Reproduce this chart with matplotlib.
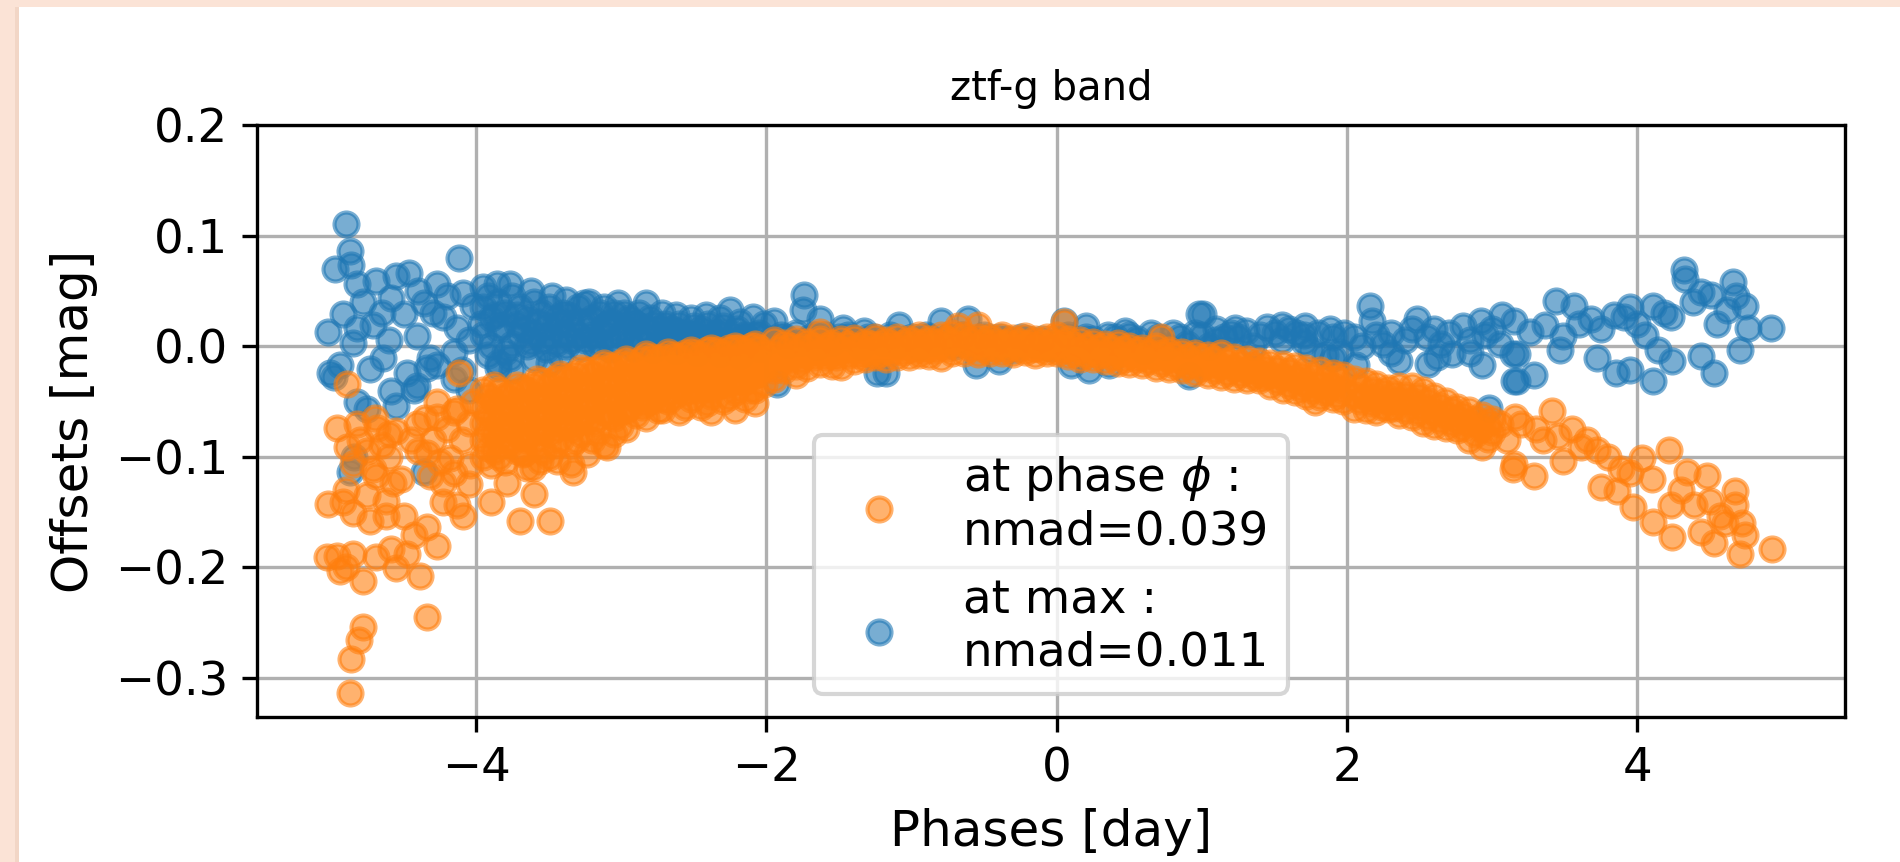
import numpy as np
import matplotlib.pyplot as plt
from matplotlib.patches import Rectangle

# offsets "at max" (blue), phase [day], offset [mag]
max_left = [(-4.90, 0.110), (-4.87, 0.086), (-4.97, 0.070), (-4.86, 0.073), (-4.82, 0.056),
            (-4.69, 0.059), (-4.55, 0.063), (-4.46, 0.066), (-4.27, 0.056), (-4.12, 0.080),
            (-4.09, 0.048), (-4.92, 0.029), (-5.02, 0.013), (-4.82, 0.016), (-4.71, 0.019),
            (-4.59, 0.043), (-4.50, 0.029), (-4.36, 0.039), (-4.23, 0.026), (-4.13, 0.016),
            (-4.02, 0.036), (-4.41, 0.009), (-5.01, -0.024), (-4.94, -0.017), (-4.73, -0.021),
            (-4.64, -0.011), (-4.48, -0.024), (-4.41, -0.036), (-4.82, -0.051), (-4.75, -0.057),
            (-4.59, -0.041), (-4.55, -0.054), (-4.32, -0.011), (-4.27, -0.017), (-4.87, -0.114),
            (-4.36, -0.114), (-4.78, 0.040), (-4.65, 0.030), (-4.40, 0.050), (-4.30, 0.030),
            (-4.20, 0.045), (-4.05, 0.005), (-4.15, -0.005), (-4.60, 0.005), (-4.85, 0.003),
            (-4.98, -0.028), (-4.84, -0.100), (-4.43, -0.040), (-4.34, -0.020),
            (-4.15, -0.030), (-4.05, -0.040), (-4.10, -0.022)]
max_early = [(-3.95, 0.053), (-3.86, 0.056), (-3.77, 0.056), (-3.95, 0.035), (-3.90, 0.025),
             (-3.85, 0.040), (-3.80, 0.030), (-3.75, 0.045), (-3.70, 0.035), (-3.65, 0.025),
             (-3.60, 0.040), (-3.55, 0.030), (-3.50, 0.035), (-3.45, 0.025), (-3.40, 0.030),
             (-3.35, 0.020), (-3.30, 0.035), (-3.26, 0.039), (-3.20, 0.025), (-3.15, 0.030),
             (-3.10, 0.020), (-3.05, 0.030), (-3.02, 0.039), (-2.95, 0.025), (-2.90, 0.020),
             (-2.83, 0.039), (-2.80, 0.025), (-2.75, 0.015), (-2.70, 0.020), (-2.65, 0.015),
             (-2.60, 0.020), (-2.55, 0.012), (-2.50, 0.018), (-2.45, 0.015), (-2.40, 0.020),
             (-2.35, 0.012), (-2.30, 0.018), (-2.25, 0.033), (-2.20, 0.015), (-2.15, 0.010),
             (-2.09, 0.026), (-2.05, 0.012),
             (-3.95, 0.010), (-3.90, 0.000), (-3.85, 0.015), (-3.80, -0.005), (-3.77, -0.011),
             (-3.70, 0.010), (-3.65, 0.000), (-3.60, 0.012), (-3.55, 0.005), (-3.50, 0.010),
             (-3.45, 0.003), (-3.40, 0.012), (-3.35, 0.005), (-3.30, 0.010), (-3.25, 0.005),
             (-3.20, 0.010), (-3.15, 0.003), (-3.10, 0.008), (-3.05, 0.005), (-3.00, 0.010),
             (-2.95, 0.004), (-2.90, 0.008), (-2.85, 0.003), (-2.80, 0.008), (-2.75, 0.002),
             (-2.70, 0.006), (-2.65, 0.002), (-2.60, 0.006), (-2.55, 0.000), (-2.50, 0.005),
             (-2.45, 0.002), (-2.40, 0.005), (-2.35, 0.000), (-2.30, 0.004), (-2.25, 0.002),
             (-2.20, 0.004), (-2.15, 0.000), (-2.10, 0.004), (-2.05, -0.002),
             (-3.60, -0.012), (-3.50, -0.015), (-3.42, -0.008), (-3.85, -0.020),
             (-3.92, 0.045), (-3.72, 0.020), (-3.62, 0.050), (-3.48, 0.045), (-3.38, 0.042),
             (-3.22, 0.040), (-3.12, 0.035), (-2.98, 0.030), (-2.88, 0.030), (-2.72, 0.030),
             (-2.62, 0.028), (-2.52, 0.025), (-2.42, 0.028), (-2.32, 0.025), (-2.18, 0.022),
             (-2.02, 0.020),
             (-3.97, 0.020), (-3.87, 0.028), (-3.82, 0.018), (-3.72, 0.028), (-3.67, 0.015),
             (-3.57, 0.022), (-3.52, 0.018), (-3.42, 0.020), (-3.37, 0.028), (-3.27, 0.022),
             (-3.22, 0.015), (-3.12, 0.018), (-3.07, 0.022), (-2.97, 0.015), (-2.92, 0.022),
             (-2.82, 0.015), (-2.77, 0.020), (-2.67, 0.010), (-2.62, 0.014), (-2.52, 0.010),
             (-2.47, 0.008), (-2.37, 0.008), (-2.32, 0.012), (-2.22, 0.010), (-2.17, 0.006),
             (-2.07, 0.010), (-3.92, -0.008), (-3.75, 0.002), (-3.62, 0.004), (-3.52, -0.003),
             (-3.38, 0.000), (-3.28, -0.002), (-3.18, 0.000), (-3.08, -0.003), (-2.92, -0.002),
             (-2.78, -0.003), (-2.62, -0.004), (-2.48, -0.005), (-2.32, -0.006), (-2.18, -0.008),
             (-3.85, -0.015), (-3.75, -0.022)]
max_center = [(-1.95, 0.023), (-1.74, 0.046), (-1.75, 0.033), (-1.63, 0.024), (-1.24, -0.024),
              (-1.93, -0.034), (-1.47, 0.016), (-1.33, 0.014), (-1.09, 0.019), (-0.80, 0.023),
              (-0.61, 0.024), (0.05, 0.023), (0.20, 0.018), (0.47, 0.014), (0.98, 0.029),
              (-0.56, -0.017), (-1.18, -0.024), (-0.40, -0.014), (0.10, -0.017), (0.22, -0.022),
              (0.36, -0.017), (0.91, -0.027), (1.01, 0.029), (1.23, 0.016), (1.55, 0.019),
              (1.71, 0.018), (1.90, -0.011),
              (-1.90, 0.010), (-1.85, 0.002), (-1.80, 0.012), (-1.70, 0.008), (-1.65, 0.000),
              (-1.60, 0.010), (-1.55, 0.004), (-1.50, 0.008), (-1.40, 0.006), (-1.35, 0.000),
              (-1.30, 0.008), (-1.20, 0.004), (-1.15, 0.010), (-1.10, 0.002), (-1.00, 0.008),
              (-0.95, 0.000), (-0.90, 0.010), (-0.85, 0.004), (-0.75, 0.008), (-0.70, 0.000),
              (-0.65, 0.010), (-0.55, 0.004), (-0.50, 0.010), (-0.45, 0.000), (-0.35, 0.006),
              (-0.30, -0.004), (-0.25, 0.008), (-0.15, 0.002), (-0.10, 0.006), (-0.05, -0.002),
              (0.00, 0.004), (0.08, 0.010), (0.15, 0.000), (0.25, 0.006), (0.30, -0.004),
              (0.40, 0.008), (0.45, 0.000), (0.55, 0.006), (0.60, -0.004), (0.70, 0.008),
              (0.75, 0.000), (0.85, 0.008), (0.90, 0.002), (1.00, 0.010), (1.05, 0.000),
              (1.10, 0.015), (1.15, 0.008), (1.20, 0.012), (1.30, 0.014), (1.35, 0.000),
              (1.45, 0.017), (1.50, 0.012), (1.60, 0.015), (1.65, 0.012), (1.70, 0.010),
              (1.75, -0.004), (1.80, 0.012), (1.85, -0.008), (1.90, 0.008), (1.95, -0.005),
              (1.98, 0.012),
              (-1.97, 0.006), (-1.87, 0.008), (-1.77, 0.004), (-1.67, 0.010), (-1.57, 0.006),
              (-1.44, 0.010), (-1.26, 0.008), (-1.05, 0.006), (-0.88, 0.008), (-0.60, 0.006),
              (-0.40, 0.008), (-0.20, 0.006), (0.20, 0.008), (0.35, 0.010), (0.50, 0.010),
              (0.65, 0.012), (0.80, 0.012), (0.95, 0.012), (1.10, 0.005), (1.25, 0.008),
              (1.40, 0.010), (1.55, 0.005), (1.70, 0.004), (1.88, 0.015)]
max_right = [(2.16, 0.036), (2.17, 0.023), (2.48, 0.024), (2.92, 0.023), (3.07, 0.028),
             (2.93, -0.017), (2.56, -0.016), (2.72, -0.007), (3.14, -0.007), (3.15, -0.032),
             (2.36, -0.014), (2.06, -0.017), (2.98, -0.056), (2.05, 0.008), (2.10, 0.000),
             (2.20, 0.010), (2.25, 0.002), (2.30, 0.012), (2.40, 0.005), (2.45, 0.015),
             (2.55, 0.008), (2.60, 0.015), (2.65, 0.002), (2.70, 0.012), (2.80, 0.018),
             (2.85, 0.005), (2.95, 0.010), (3.00, 0.015), (3.05, 0.002), (2.30, -0.006),
             (2.62, -0.010), (2.85, -0.006),
             (4.32, 0.069), (4.33, 0.061), (4.66, 0.058), (4.92, 0.016), (3.44, 0.041),
             (3.56, 0.036), (3.15, 0.023), (3.26, 0.013), (3.68, 0.024), (3.84, 0.028),
             (3.91, 0.026), (4.11, 0.036), (4.23, 0.026), (4.44, 0.049), (4.51, 0.046),
             (4.74, 0.036), (4.76, 0.016), (4.71, -0.004), (4.62, 0.033), (3.17, -0.007),
             (3.29, -0.026), (3.17, -0.032), (3.47, -0.004), (3.72, -0.011), (3.85, -0.024),
             (3.95, -0.022), (4.11, -0.032), (4.24, -0.014), (4.44, -0.009), (4.53, -0.024),
             (4.14, -0.004), (3.36, 0.019), (3.49, 0.009), (3.60, 0.020), (3.75, 0.015),
             (4.00, 0.020), (4.05, 0.010), (4.18, 0.030), (4.38, 0.040), (4.55, 0.020),
             (4.68, 0.045), (3.95, 0.035)]

# offsets "at phase phi" (orange)
phase_left = [(-4.89, -0.034), (-4.12, -0.024), (-4.96, -0.074), (-4.82, -0.071), (-4.68, -0.074),
              (-4.55, -0.077), (-4.41, -0.071), (-4.27, -0.051), (-4.27, -0.064), (-4.13, -0.057),
              (-4.02, -0.051), (-4.89, -0.091), (-4.85, -0.107), (-4.71, -0.111), (-4.57, -0.124),
              (-4.69, -0.118), (-5.02, -0.143), (-4.92, -0.141), (-4.85, -0.151), (-4.73, -0.158),
              (-4.62, -0.154), (-4.50, -0.154), (-4.43, -0.171), (-4.27, -0.181), (-4.34, -0.164),
              (-4.32, -0.118), (-4.23, -0.124), (-4.13, -0.144), (-4.09, -0.154), (-4.23, -0.141),
              (-4.34, -0.097), (-4.18, -0.101), (-4.04, -0.108), (-5.03, -0.191), (-4.94, -0.204),
              (-4.85, -0.188), (-4.78, -0.213), (-4.69, -0.191), (-4.59, -0.184), (-4.55, -0.201),
              (-4.48, -0.188), (-4.39, -0.208), (-4.34, -0.245), (-4.78, -0.254), (-4.81, -0.266),
              (-4.86, -0.283), (-4.87, -0.314), (-4.80, -0.085), (-4.75, -0.095), (-4.65, -0.090),
              (-4.60, -0.100), (-4.45, -0.085), (-4.40, -0.095), (-4.30, -0.085), (-4.20, -0.075),
              (-4.10, -0.085), (-4.05, -0.070), (-4.15, -0.060), (-4.35, -0.065), (-4.60, -0.080),
              (-4.70, -0.065), (-4.25, -0.105), (-4.15, -0.115), (-4.05, -0.125), (-4.90, -0.130),
              (-4.75, -0.135), (-4.62, -0.140), (-4.52, -0.120), (-4.96, -0.190), (-4.90, -0.200)]
phase_early = [(-3.90, -0.108), (-3.90, -0.141), (-3.79, -0.124), (-3.70, -0.158), (-3.60, -0.134),
               (-3.49, -0.158), (-3.67, -0.097), (-3.56, -0.104), (-3.44, -0.104), (-3.35, -0.107),
               (-3.33, -0.114), (-3.61, -0.110), (-3.10, -0.091), (-3.24, -0.098),
               (-3.95, -0.040), (-3.95, -0.055), (-3.95, -0.070), (-3.95, -0.085), (-3.95, -0.100),
               (-3.88, -0.035), (-3.88, -0.050), (-3.88, -0.065), (-3.88, -0.080), (-3.88, -0.095),
               (-3.80, -0.045), (-3.80, -0.060), (-3.80, -0.075), (-3.80, -0.090), (-3.80, -0.105),
               (-3.72, -0.035), (-3.72, -0.050), (-3.72, -0.065), (-3.72, -0.080), (-3.72, -0.095),
               (-3.65, -0.040), (-3.65, -0.055), (-3.65, -0.070), (-3.65, -0.085), (-3.65, -0.110),
               (-3.58, -0.030), (-3.58, -0.045), (-3.58, -0.060), (-3.58, -0.075), (-3.58, -0.090),
               (-3.50, -0.035), (-3.50, -0.050), (-3.50, -0.065), (-3.50, -0.080), (-3.50, -0.100),
               (-3.42, -0.025), (-3.42, -0.040), (-3.42, -0.055), (-3.42, -0.070), (-3.42, -0.085),
               (-3.35, -0.030), (-3.35, -0.045), (-3.35, -0.060), (-3.35, -0.075), (-3.35, -0.090),
               (-3.28, -0.020), (-3.28, -0.035), (-3.28, -0.050), (-3.28, -0.065), (-3.28, -0.080),
               (-3.20, -0.025), (-3.20, -0.040), (-3.20, -0.055), (-3.20, -0.070), (-3.20, -0.085),
               (-3.12, -0.015), (-3.12, -0.030), (-3.12, -0.045), (-3.12, -0.060), (-3.12, -0.090),
               (-3.05, -0.020), (-3.05, -0.035), (-3.05, -0.050), (-3.05, -0.065), (-3.05, -0.080),
               (-2.97, -0.012), (-2.97, -0.028), (-2.97, -0.042), (-2.97, -0.058), (-2.97, -0.075),
               (-2.90, -0.018), (-2.90, -0.032), (-2.90, -0.048), (-2.90, -0.062),
               (-2.83, -0.007), (-2.83, -0.022), (-2.83, -0.038), (-2.83, -0.052), (-2.83, -0.065),
               (-2.75, -0.012), (-2.75, -0.028), (-2.75, -0.042), (-2.75, -0.058),
               (-2.68, -0.005), (-2.68, -0.020), (-2.68, -0.035), (-2.68, -0.050),
               (-2.60, -0.010), (-2.60, -0.025), (-2.60, -0.040), (-2.60, -0.060),
               (-2.52, -0.004), (-2.52, -0.018), (-2.52, -0.032), (-2.52, -0.048),
               (-2.45, -0.008), (-2.45, -0.022), (-2.45, -0.038), (-2.45, -0.055),
               (-2.38, -0.002), (-2.38, -0.016), (-2.38, -0.030), (-2.38, -0.045), (-2.38, -0.060),
               (-2.30, -0.006), (-2.30, -0.020), (-2.30, -0.035), (-2.30, -0.050),
               (-2.22, 0.000), (-2.22, -0.014), (-2.22, -0.028), (-2.22, -0.042), (-2.22, -0.058),
               (-2.15, -0.004), (-2.15, -0.018), (-2.15, -0.032), (-2.15, -0.048),
               (-2.08, 0.002), (-2.08, -0.012), (-2.08, -0.026), (-2.08, -0.040), (-2.08, -0.052),
               (-2.02, -0.006), (-2.02, -0.020), (-2.02, -0.034)]
phase_early_fill = [(-3.92, -0.045), (-3.92, -0.062), (-3.92, -0.078), (-3.92, -0.092),
                    (-3.84, -0.040), (-3.84, -0.055), (-3.84, -0.070), (-3.84, -0.085), (-3.84, -0.100),
                    (-3.76, -0.042), (-3.76, -0.058), (-3.76, -0.072), (-3.76, -0.088),
                    (-3.68, -0.038), (-3.68, -0.052), (-3.68, -0.068), (-3.68, -0.082), (-3.68, -0.098),
                    (-3.61, -0.035), (-3.61, -0.050), (-3.61, -0.065), (-3.61, -0.080),
                    (-3.54, -0.032), (-3.54, -0.048), (-3.54, -0.062), (-3.54, -0.078), (-3.54, -0.095),
                    (-3.46, -0.030), (-3.46, -0.045), (-3.46, -0.060), (-3.46, -0.075), (-3.46, -0.090),
                    (-3.38, -0.028), (-3.38, -0.042), (-3.38, -0.058), (-3.38, -0.072),
                    (-3.31, -0.025), (-3.31, -0.040), (-3.31, -0.055), (-3.31, -0.070), (-3.31, -0.085),
                    (-3.24, -0.022), (-3.24, -0.038), (-3.24, -0.052), (-3.24, -0.068),
                    (-3.16, -0.020), (-3.16, -0.035), (-3.16, -0.050), (-3.16, -0.065), (-3.16, -0.078),
                    (-3.08, -0.018), (-3.08, -0.032), (-3.08, -0.048), (-3.08, -0.062),
                    (-3.01, -0.015), (-3.01, -0.030), (-3.01, -0.045), (-3.01, -0.060), (-3.01, -0.072),
                    (-2.94, -0.015), (-2.94, -0.028), (-2.94, -0.042), (-2.94, -0.055),
                    (-2.86, -0.012), (-2.86, -0.025), (-2.86, -0.040), (-2.86, -0.055),
                    (-2.79, -0.010), (-2.79, -0.022), (-2.79, -0.036), (-2.79, -0.050),
                    (-2.72, -0.010), (-2.72, -0.022), (-2.72, -0.035), (-2.72, -0.048), (-2.72, -0.058),
                    (-2.64, -0.008), (-2.64, -0.020), (-2.64, -0.032), (-2.64, -0.045),
                    (-2.56, -0.006), (-2.56, -0.018), (-2.56, -0.030), (-2.56, -0.042), (-2.56, -0.055),
                    (-2.49, -0.006), (-2.49, -0.016), (-2.49, -0.028), (-2.49, -0.040),
                    (-2.41, -0.004), (-2.41, -0.014), (-2.41, -0.026), (-2.41, -0.038), (-2.41, -0.052),
                    (-2.34, -0.004), (-2.34, -0.014), (-2.34, -0.025), (-2.34, -0.036),
                    (-2.26, -0.002), (-2.26, -0.012), (-2.26, -0.022), (-2.26, -0.034), (-2.26, -0.046),
                    (-2.19, -0.002), (-2.19, -0.010), (-2.19, -0.020), (-2.19, -0.032),
                    (-2.11, 0.000), (-2.11, -0.008), (-2.11, -0.018), (-2.11, -0.028), (-2.11, -0.040),
                    (-2.05, -0.002), (-2.05, -0.012), (-2.05, -0.024)]
phase_center = [(-1.95, 0.005), (-1.95, -0.008), (-1.95, -0.022), (-1.95, -0.030),
                (-1.88, 0.003), (-1.88, -0.010), (-1.88, -0.022),
                (-1.80, 0.006), (-1.80, -0.006), (-1.80, -0.018), (-1.80, -0.026),
                (-1.72, 0.004), (-1.72, -0.008), (-1.72, -0.020),
                (-1.63, 0.013), (-1.63, 0.006), (-1.63, -0.005), (-1.63, -0.016),
                (-1.55, 0.003), (-1.55, -0.008), (-1.55, -0.018),
                (-1.49, 0.006), (-1.49, -0.004), (-1.49, -0.019),
                (-1.40, 0.007), (-1.40, -0.003), (-1.40, -0.014),
                (-1.32, 0.004), (-1.32, -0.006), (-1.32, -0.012),
                (-1.25, 0.008), (-1.25, -0.002), (-1.25, -0.010),
                (-1.18, 0.005), (-1.18, -0.004), (-1.18, -0.012),
                (-1.10, 0.008), (-1.10, 0.000), (-1.10, -0.010),
                (-1.02, 0.006), (-1.02, -0.003), (-1.02, -0.010),
                (-0.95, 0.010), (-0.95, 0.002), (-0.95, -0.008),
                (-0.88, 0.006), (-0.88, -0.002), (-0.88, -0.009),
                (-0.80, 0.010), (-0.80, 0.000), (-0.80, -0.011),
                (-0.72, 0.012), (-0.72, 0.004), (-0.72, -0.006), (-0.68, 0.018),
                (-0.64, 0.010), (-0.64, 0.002), (-0.64, -0.006),
                (-0.54, 0.019), (-0.54, 0.008), (-0.54, 0.000), (-0.54, -0.007),
                (-0.46, 0.008), (-0.46, 0.000), (-0.46, -0.006),
                (-0.38, 0.010), (-0.38, 0.002), (-0.38, -0.006),
                (-0.30, 0.007), (-0.30, 0.000), (-0.30, -0.007),
                (-0.22, 0.009), (-0.22, 0.002), (-0.22, -0.005),
                (-0.15, 0.006), (-0.15, -0.002), (-0.15, -0.008),
                (-0.07, 0.008), (-0.07, 0.000), (-0.07, -0.006),
                (0.00, 0.010), (0.00, 0.002), (0.00, -0.006), (0.05, 0.022),
                (0.08, 0.006), (0.08, -0.002), (0.08, -0.009),
                (0.16, 0.005), (0.16, -0.004), (0.16, -0.012),
                (0.25, 0.004), (0.25, -0.005), (0.25, -0.012),
                (0.33, 0.002), (0.33, -0.006), (0.33, -0.014),
                (0.42, 0.003), (0.42, -0.007), (0.42, -0.015),
                (0.50, 0.000), (0.50, -0.008), (0.50, -0.016),
                (0.59, -0.002), (0.59, -0.010), (0.59, -0.017),
                (0.68, 0.000), (0.68, -0.010), (0.68, -0.020), (0.72, 0.008),
                (0.77, -0.004), (0.77, -0.012), (0.77, -0.021),
                (0.86, -0.005), (0.86, -0.014), (0.86, -0.022),
                (0.95, -0.006), (0.95, -0.015), (0.95, -0.024),
                (1.04, -0.008), (1.04, -0.017), (1.04, -0.026),
                (1.13, -0.006), (1.13, -0.018), (1.13, -0.028),
                (1.22, -0.010), (1.22, -0.020), (1.22, -0.030),
                (1.31, -0.012), (1.31, -0.022), (1.31, -0.031),
                (1.39, -0.014), (1.39, -0.024), (1.39, -0.031),
                (1.47, -0.015), (1.47, -0.026), (1.47, -0.036),
                (1.56, -0.016), (1.56, -0.028), (1.56, -0.040),
                (1.64, -0.018), (1.64, -0.030), (1.64, -0.042),
                (1.72, -0.020), (1.72, -0.034), (1.72, -0.045), (1.78, -0.051),
                (1.81, -0.022), (1.81, -0.035), (1.81, -0.046),
                (1.90, -0.024), (1.90, -0.036), (1.90, -0.048),
                (1.97, -0.026), (1.97, -0.040), (1.97, -0.050)]
phase_center_fill = [(-1.91, -0.002), (-1.91, -0.015), (-1.84, 0.000), (-1.84, -0.012),
                     (-1.76, -0.001), (-1.76, -0.013), (-1.68, 0.000), (-1.68, -0.010),
                     (-1.59, 0.000), (-1.59, -0.010), (-1.52, 0.000), (-1.52, -0.010),
                     (-1.44, 0.002), (-1.44, -0.008), (-1.36, 0.000), (-1.36, -0.008),
                     (-1.28, 0.002), (-1.28, -0.006), (-1.21, 0.002), (-1.21, -0.006),
                     (-1.14, 0.002), (-1.14, -0.005), (-1.06, 0.003), (-1.06, -0.005),
                     (-0.98, 0.004), (-0.98, -0.004), (-0.91, 0.004), (-0.91, -0.004),
                     (-0.84, 0.004), (-0.84, -0.004), (-0.76, 0.006), (-0.76, -0.002),
                     (-0.60, 0.005), (-0.60, -0.002), (-0.50, 0.004), (-0.50, -0.003),
                     (-0.42, 0.004), (-0.42, -0.002), (-0.34, 0.004), (-0.34, -0.003),
                     (-0.26, 0.004), (-0.26, -0.002), (-0.18, 0.003), (-0.18, -0.003),
                     (-0.11, 0.003), (-0.11, -0.003), (-0.03, 0.004), (-0.03, -0.002),
                     (0.04, 0.003), (0.04, -0.004), (0.12, 0.001), (0.12, -0.006),
                     (0.20, 0.000), (0.20, -0.008), (0.29, -0.001), (0.29, -0.008),
                     (0.38, -0.002), (0.38, -0.010), (0.46, -0.003), (0.46, -0.012),
                     (0.55, -0.004), (0.55, -0.012), (0.63, -0.005), (0.63, -0.014),
                     (0.72, -0.006), (0.72, -0.015), (0.81, -0.008), (0.81, -0.017),
                     (0.90, -0.010), (0.90, -0.018), (0.99, -0.010), (0.99, -0.020),
                     (1.08, -0.012), (1.08, -0.022), (1.17, -0.014), (1.17, -0.024),
                     (1.26, -0.015), (1.26, -0.025), (1.35, -0.017), (1.35, -0.027),
                     (1.43, -0.020), (1.43, -0.028), (1.52, -0.021), (1.52, -0.032),
                     (1.60, -0.023), (1.60, -0.035), (1.68, -0.026), (1.68, -0.038),
                     (1.76, -0.027), (1.76, -0.040), (1.85, -0.029), (1.85, -0.042),
                     (1.93, -0.030), (1.93, -0.044)]
phase_right = [(2.05, -0.030), (2.05, -0.044), (2.05, -0.057), (2.13, -0.032), (2.13, -0.046),
               (2.13, -0.058), (2.20, -0.034), (2.20, -0.048), (2.20, -0.060), (2.28, -0.038),
               (2.28, -0.050), (2.28, -0.057), (2.36, -0.036), (2.36, -0.050), (2.36, -0.062),
               (2.45, -0.036), (2.45, -0.050), (2.45, -0.064), (2.52, -0.040), (2.52, -0.055),
               (2.52, -0.070), (2.60, -0.045), (2.60, -0.060), (2.60, -0.072), (2.68, -0.050),
               (2.68, -0.062), (2.68, -0.074), (2.76, -0.055), (2.76, -0.066), (2.76, -0.076),
               (2.84, -0.058), (2.84, -0.070), (2.84, -0.085), (2.93, -0.062), (2.93, -0.075),
               (2.93, -0.091), (3.00, -0.066), (3.00, -0.078), (3.05, -0.071), (3.14, -0.111),
               (3.16, -0.064), (3.10, -0.085),
               (2.09, -0.037), (2.09, -0.050), (2.17, -0.040), (2.17, -0.052), (2.24, -0.042),
               (2.24, -0.055), (2.32, -0.043), (2.32, -0.056), (2.40, -0.044), (2.40, -0.058),
               (2.49, -0.045), (2.49, -0.060), (2.56, -0.050), (2.56, -0.064), (2.64, -0.054),
               (2.64, -0.067), (2.72, -0.058), (2.72, -0.070), (2.80, -0.062), (2.80, -0.074),
               (2.88, -0.066), (2.88, -0.080), (2.97, -0.070), (2.97, -0.084),
               (3.41, -0.059), (3.20, -0.071), (3.29, -0.118), (3.45, -0.081), (3.49, -0.104),
               (3.61, -0.091), (3.72, -0.094), (3.75, -0.128), (3.86, -0.131), (3.89, -0.111),
               (3.97, -0.146), (4.03, -0.101), (4.22, -0.094), (4.11, -0.159), (4.24, -0.173),
               (4.23, -0.144), (4.34, -0.114), (4.48, -0.118), (4.44, -0.168), (4.53, -0.178),
               (4.67, -0.131), (4.67, -0.144), (4.74, -0.171), (4.71, -0.188), (4.93, -0.184),
               (4.57, -0.154), (4.39, -0.144), (3.15, -0.107), (3.30, -0.075), (3.35, -0.085),
               (3.55, -0.075), (3.65, -0.085), (3.80, -0.100), (3.95, -0.115), (4.10, -0.120),
               (4.30, -0.130), (4.50, -0.140), (4.60, -0.160), (4.72, -0.160)]

max_pts = np.array(max_left + max_early + max_center + max_right)
phase_pts = np.array(phase_left + phase_early + phase_early_fill + phase_center
                     + phase_center_fill + phase_right)

fig = plt.figure(figsize=(1900 / 300 + 1e-6, 862 / 300 + 1e-6), dpi=300,
                 facecolor='#fbe3d6')
# white page inside the peach frame of the screenshot
fig.patches.append(Rectangle((15 / 1900, 0), 4 / 1900, 1 - 7 / 862, transform=fig.transFigure,
                             facecolor='#f2d6c6', edgecolor='none', zorder=-2))
fig.patches.append(Rectangle((19 / 1900, 0), 1, 1 - 7 / 862, transform=fig.transFigure,
                             facecolor='white', edgecolor='none', zorder=-1))

ax = fig.add_axes([257 / 1900, 1 - 717 / 862, (1845 - 257) / 1900, (717 - 125) / 862])
h_max = ax.scatter(max_pts[:, 0], max_pts[:, 1], s=33, alpha=0.6, color='C0',
                   label='at max :\nnmad=0.011')
h_phase = ax.scatter(phase_pts[:, 0], phase_pts[:, 1], s=33, alpha=0.6, color='C1',
                     label='at phase $\\phi$ :\nnmad=0.039')
ax.set_xlim(-5.51, 5.43)
ax.set_ylim(-0.3357, 0.2)
ax.set_xticks([-4, -2, 0, 2, 4])
ax.set_yticks([-0.3, -0.2, -0.1, 0.0, 0.1, 0.2])
ax.tick_params(labelsize=11.2)
ax.grid(True)
ax.set_axisbelow(True)
ax.set_title('ztf-g band', fontsize=9.6)
ax.set_xlabel('Phases [day]', fontsize=12)
ax.set_ylabel('Offsets [mag]', fontsize=12)
ax.legend(handles=[h_phase, h_max], loc='lower center', fontsize=11.2)

fig.savefig('out.png', dpi=300, facecolor=fig.get_facecolor())
